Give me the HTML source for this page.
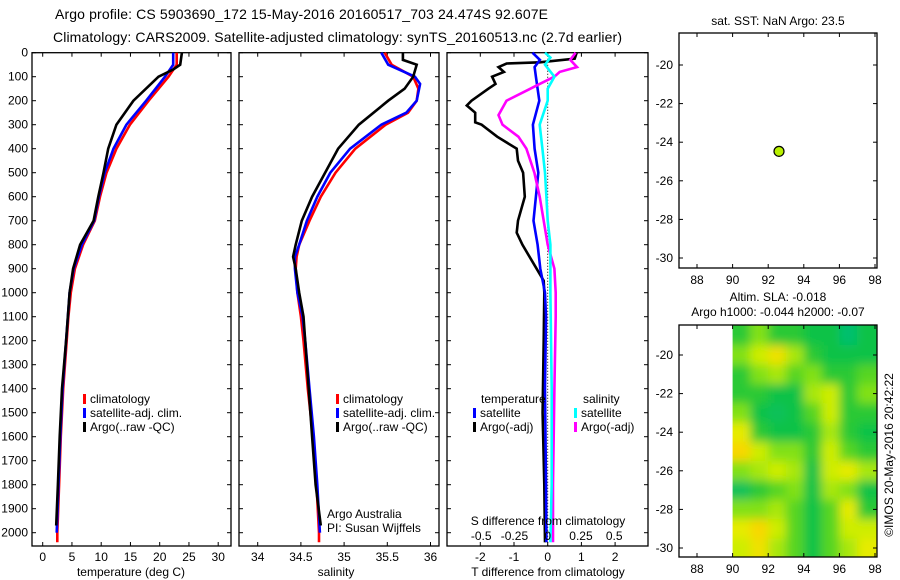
<!DOCTYPE html>
<html><head><meta charset="utf-8"><style>
html,body{margin:0;padding:0;background:#fff}
svg{display:block;font-family:"Liberation Sans",sans-serif}
</style></head><body>
<svg id="c" width="900" height="580" viewBox="0 0 900 580"></svg>
<script>
// ---- data ----
const tDepthRed=[0,50,100,200,300,400,500,600,700,800,900,1000,1100,1200,1400,1600,1800,2000,2040];
const tRed=[22.9,22.9,21.5,18.1,14.9,12.6,10.9,9.8,8.9,6.9,5.5,4.8,4.4,4.1,3.5,3.1,2.8,2.5,2.5];
const tDepthBlue=[0,50,100,200,300,400,500,600,700,800,900,1000,1100,1200,1400,1600,1800,2000];
const tBlue=[22.3,22.3,20.9,17.7,14.3,12.1,10.6,9.6,8.8,6.7,5.3,4.6,4.3,4.0,3.4,3.0,2.7,2.4];
const tDepthBlack=[0,50,70,100,200,300,400,500,600,700,800,900,1000,1200,1400,1600,1800,1970];
const tBlack=[23.8,23.5,22.3,19.8,15.5,12.6,11.2,10.4,9.5,8.7,6.4,5.2,4.6,4.0,3.3,2.9,2.6,2.3];
const sDepthRed=[0,50,100,150,200,250,300,400,500,600,700,800,850,900,1000,1100,1200,1400,1600,1800,2000,2040];
const sRed=[35.47,35.55,35.80,35.86,35.84,35.74,35.48,35.13,34.90,34.73,34.60,34.48,34.45,34.44,34.46,34.50,34.53,34.58,34.64,34.68,34.71,34.71];
const sDepthBlue=[0,50,100,130,200,250,300,400,500,600,700,800,850,900,1000,1100,1200,1400,1600,1800,2000];
const sBlue=[35.43,35.51,35.82,35.88,35.84,35.72,35.43,35.07,34.84,34.69,34.57,34.48,34.43,34.43,34.46,34.52,34.55,34.6,34.65,34.69,34.72];
const sDepthBlack=[0,30,50,100,150,200,300,400,500,600,700,800,850,900,1000,1100,1200,1400,1600,1800,1970];
const sBlack=[35.68,35.68,35.84,35.80,35.70,35.51,35.17,34.93,34.78,34.63,34.51,34.44,34.41,34.44,34.48,34.53,34.55,34.59,34.63,34.67,34.73];
const dDepthT=[0,25,40,45,60,80,100,130,150,200,220,250,290,300,350,400,450,500,600,700,750,800,900,950,1000,1200,1500,1800,2040];
const dTBlack=[0.86,0.8,-0.23,-1.22,-1.46,-1.3,-1.65,-1.55,-1.76,-2.26,-2.4,-2.15,-2.15,-1.96,-1.5,-0.92,-0.88,-0.73,-0.68,-0.88,-0.92,-0.75,-0.33,-0.12,-0.1,-0.12,-0.15,-0.1,-0.08];
const dDepthB=[0,30,60,100,200,300,400,500,600,700,800,900,1000,1100,1400,1800,2040];
const dTBlue=[-0.45,-0.23,-0.39,-0.35,-0.25,-0.44,-0.39,-0.28,-0.35,-0.42,-0.3,-0.22,-0.08,-0.05,-0.08,-0.05,-0.04];
const dDepthS=[0,20,50,100,150,200,300,400,500,600,700,800,1000,1400,1800,2040];
const dSCyan=[-0.02,0.02,-0.02,0.05,0.0,0.0,-0.06,-0.04,-0.02,-0.01,0.0,0.02,0.02,0.03,0.03,0.02];
const dDepthM=[0,30,60,80,100,130,150,200,260,300,350,400,500,600,700,800,900,1000,1100,1400,1800,2040];
const dSMag=[0.21,0.17,0.22,0.09,0.05,-0.06,-0.13,-0.31,-0.37,-0.34,-0.22,-0.16,-0.1,-0.06,-0.03,0.0,0.05,0.06,0.06,0.05,0.04,0.04];
const floatLon=[92.607];
const floatLat=[-24.474];
const slaLons=[90.5,91.5,92.5,93.5,94.5,95.5,96.5,97.5];
const slaLats=[-19,-20,-21,-22,-23,-24,-25,-26,-27,-28,-29,-30];
const slaVals=[
[0.4,0.6,0.4,0.4,0.3,0.3,0.1,0.3],
[0.6,0.8,1.0,0.7,0.4,0.3,0.3,0.3],
[0.4,0.6,0.7,0.5,0.6,0.4,0.4,0.5],
[0.4,0.4,0.3,0.3,0.7,0.8,0.4,0.6],
[0.6,0.3,0.2,0.3,0.5,0.8,0.4,0.4],
[0.9,0.4,0.3,0.3,0.4,0.7,0.4,0.3],
[1.1,0.8,0.6,0.6,0.4,0.8,0.5,0.4],
[0.6,0.7,0.8,0.7,0.3,0.8,0.9,0.7],
[0.2,0.4,0.5,0.6,0.3,0.7,0.6,0.3],
[0.6,0.6,0.7,0.5,0.3,0.5,0.9,0.4],
[0.9,1.1,0.8,0.5,0.3,0.5,0.8,0.8],
[0.8,1.0,0.7,0.5,0.3,0.5,0.7,0.9]];
const depthTicks=[0,100,200,300,400,500,600,700,800,900,1000,1100,1200,1300,1400,1500,1600,1700,1800,1900,2000];
const tempTicks=[0,5,10,15,20,25,30];
const salTicks=[34,34.5,35,35.5,36];
const dTTicks=[-2,-1,0,1,2];
const dSTicks=[-0.5,-0.25,0,0.25,0.5];
const latTicks=[-20,-22,-24,-26,-28,-30];
const lonTicks=[88,90,92,94,96,98];

// ---- helpers ----
const NS="http://www.w3.org/2000/svg";
const svg=document.getElementById('c');
function mk(tag,attrs,parent){const e=document.createElementNS(NS,tag);for(const k in attrs)e.setAttribute(k,attrs[k]);(parent||svg).appendChild(e);return e;}
function txt(x,y,s,size,anchor,parent){const e=mk('text',{x:x,y:y,'font-size':size,'text-anchor':anchor||'start',fill:'#000'},parent);e.textContent=s;return e;}
const Y0=52.7, YS=0.24;
const yD=d=>Y0+d*YS;
const xT=t=>42.7+t*5.85;
const xS=s=>257.7+(s-34)*86.4;
const xDT=v=>547.7+v*33.7;
const xDS=v=>547.7+v*133;
const PT=546;

function frame(x1,x2,name){
  const r=mk('rect',{x:x1,y:Y0,width:x2-x1,height:PT-Y0,fill:'none',stroke:'#000','stroke-width':1.3});
  
  
  depthTicks.forEach(d=>{
    mk('line',{x1:x1,x2:x1+4,y1:yD(d),y2:yD(d),stroke:'#000'});
    mk('line',{x1:x2-4,x2:x2,y1:yD(d),y2:yD(d),stroke:'#000'});
  });
}
function vtick(x){mk('line',{x1:x,x2:x,y1:Y0,y2:Y0+4,stroke:'#000'});mk('line',{x1:x,x2:x,y1:PT-4,y2:PT,stroke:'#000'});}
function curve(xs,ds,fx,color,name,w){
  const p=xs.map((v,i)=>(i?'L':'M')+fx(v).toFixed(1)+','+yD(ds[i]).toFixed(1)).join('');
  const e=mk('path',{d:p,fill:'none',stroke:color,'stroke-width':w||2.6,'stroke-linejoin':'miter'});
  
  
}
function legendItem(x,y,color,label,name){
  const g=mk('g',{});
  
  
  mk('rect',{x:x,y:y-9,width:3,height:10,fill:color},g);
  txt(x+7,y,label,12,'start',g);
}

// ---- titles ----
const t1=txt(55,19,'Argo profile: CS 5903690_172 15-May-2016 20160517_703 24.474S 92.607E',14);
t1.setAttribute('textLength',493);


const t2=txt(53,42,'Climatology: CARS2009. Satellite-adjusted climatology: synTS_20160513.nc (2.7d earlier)',14);
t2.setAttribute('textLength',569);



// ---- depth labels ----
depthTicks.forEach(d=>{const e=txt(28,yD(d)+4,String(d),12,'end');
  
  });

// ---- panel 1 temperature ----
frame(32,231,'temperature-panel');
tempTicks.forEach(t=>{vtick(xT(t));const e=txt(xT(t),561,String(t),12,'middle');
  
  });
curve(tRed,tDepthRed,xT,'#ff0000','temp-climatology-line');
curve(tBlue,tDepthBlue,xT,'#0000ff','temp-satellite-line');
curve(tBlack,tDepthBlack,xT,'#000','temp-argo-line');
const xl1=txt(131,576,'temperature (deg C)',12,'middle');


legendItem(83,403,'#ff0000','climatology','legend-climatology');
legendItem(83,417,'#0000ff','satellite-adj. clim.','legend-satellite-adj');
legendItem(83,431,'#000','Argo(..raw -QC)','legend-argo');

// ---- panel 2 salinity ----
frame(239,439,'salinity-panel');
salTicks.forEach(s=>{vtick(xS(s));const e=txt(xS(s),561,String(s),12,'middle');
  
  });
curve(sRed,sDepthRed,xS,'#ff0000','sal-climatology-line');
curve(sBlue,sDepthBlue,xS,'#0000ff','sal-satellite-line');
curve(sBlack,sDepthBlack,xS,'#000','sal-argo-line');
const xl2=txt(336,576,'salinity',12,'middle');


legendItem(336,403,'#ff0000','climatology','legend-climatology-2');
legendItem(336,417,'#0000ff','satellite-adj. clim.','legend-satellite-adj-2');
legendItem(336,431,'#000','Argo(..raw -QC)','legend-argo-2');
const cr1=txt(327,518,'Argo Australia',12);


const cr2=txt(327,532,'PI: Susan Wijffels',12);



// ---- panel 3 differences ----
frame(447,648,'difference-panel');
dTTicks.forEach(v=>{vtick(xDT(v));const e=txt(xDT(v),561,String(v),12,'middle');
  
  });
const zl=mk('line',{x1:547.7,x2:547.7,y1:Y0,y2:PT,stroke:'#000','stroke-dasharray':'1,2'});


curve(dTBlack,dDepthT,xDT,'#000','t-diff-argo-line');
curve(dTBlue,dDepthB,xDT,'#0000ff','t-diff-satellite-line');
curve(dSMag,dDepthM,xDS,'#ff00ff','s-diff-argo-line');
curve(dSCyan,dDepthS,xDS,'#00ffff','s-diff-satellite-line');
dSTicks.forEach(v=>{const e=txt(xDS(v),540,String(v),12,'middle');
  
  });
const st=txt(548,525,'S difference from climatology',12,'middle');


const tt=txt(548,576,'T difference from climatology',12,'middle');


const lt=txt(481,403,'temperature',12);


const ls=txt(583,403,'salinity',12);


legendItem(473,417,'#0000ff','satellite','legend-t-satellite');
legendItem(473,431,'#000','Argo(-adj)','legend-t-argo');
legendItem(574,417,'#00ffff','satellite','legend-s-satellite');
legendItem(574,431,'#ff00ff','Argo(-adj)','legend-s-argo');

// ---- maps ----
const MX1=679,MX2=877;
const xL=lon=>697+(lon-88)*17.8;
function mapAxes(top,bot,lat20,name){
  const yL=lat=>lat20+(-20-lat)*19.3;
  lonTicks.forEach(l=>{mk('line',{x1:xL(l),x2:xL(l),y1:bot-4,y2:bot,stroke:'#000'});mk('line',{x1:xL(l),x2:xL(l),y1:top,y2:top+4,stroke:'#000'});
    const e=txt(xL(l),bot+16,String(l),12,'middle');
    
    });
  latTicks.forEach(l=>{mk('line',{x1:MX1,x2:MX1+4,y1:yL(l),y2:yL(l),stroke:'#000'});mk('line',{x1:MX2-4,x2:MX2,y1:yL(l),y2:yL(l),stroke:'#000'});
    const e=txt(673,yL(l)+4,String(l),12,'end');
    
    });
  const r=mk('rect',{x:MX1,y:top,width:MX2-MX1,height:bot-top,fill:'none',stroke:'#000','stroke-width':1.3});
  
  
  return yL;
}
// map 1
const yL1=mapAxes(33,268,65,'sst-map-frame');
const dot=mk('circle',{cx:xL(floatLon[0]),cy:yL1(floatLat[0]),r:5,fill:'#b8f000',stroke:'#000','stroke-width':1.2});


const mt1=txt(778,25,'sat. SST: NaN Argo: 23.5',12,'middle');



// map 2 heatmap
const defs=mk('defs',{});
const cp=mk('clipPath',{id:'hc'},defs);
mk('rect',{x:xL(90),y:325,width:MX2-xL(90),height:557-325},cp);
const fl=mk('filter',{id:'bl',x:'-10%',y:'-10%',width:'120%',height:'120%'},defs);
mk('feGaussianBlur',{stdDeviation:5},fl);
const stops=[[0,[0,190,130]],[0.35,[20,195,60]],[0.6,[130,225,20]],[0.85,[225,240,0]],[1.1,[248,215,0]]];
function col(v){for(let i=1;i<stops.length;i++){if(v<=stops[i][0]||i==stops.length-1){const a=stops[i-1],b=stops[i];let f=(v-a[0])/(b[0]-a[0]);f=Math.max(0,Math.min(1,f));return 'rgb('+a[1].map((c,k)=>Math.round(c+(b[1][k]-c)*f)).join(',')+')';}}}
const yL2=lat=>355+(-20-lat)*19.3;
const hg=mk('g',{'clip-path':'url(#hc)'});


const hb=mk('g',{filter:'url(#bl)'},hg);
slaLats.forEach((lat,r)=>slaLons.forEach((lon,c)=>{
  let x1=xL(lon-0.5),x2=xL(lon+0.5),y1=yL2(lat+0.5),y2=yL2(lat-0.5);
  if(c==0)x1-=15; if(c==slaLons.length-1)x2+=15; if(r==0)y1-=15; if(r==slaLats.length-1)y2+=15;
  const cell=mk('rect',{x:x1,y:y1,width:x2-x1+0.5,height:y2-y1+0.5,fill:col(slaVals[r][c])},hb);
  
  
}));
mapAxes(325,557,355,'sla-map-frame');
const mt2=txt(778,301,'Altim. SLA: -0.018',12,'middle');


const mt3=txt(778,316,'Argo h1000: -0.044 h2000: -0.07',12,'middle');


const cp2=txt(0,0,'©IMOS 20-May-2016 20:42:22',12,'middle');
cp2.setAttribute('transform','translate(893,455) rotate(-90)');


</script>
</body></html>
